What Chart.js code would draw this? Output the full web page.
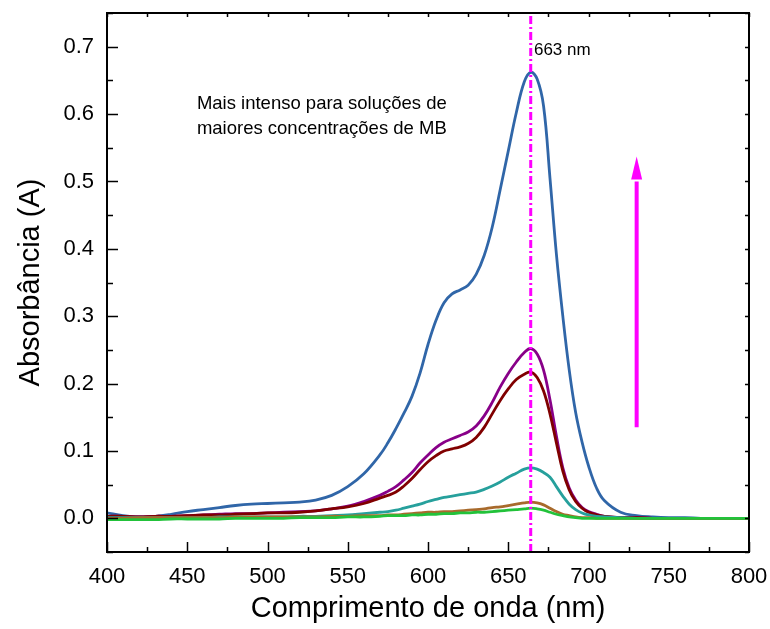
<!DOCTYPE html>
<html>
<head>
<meta charset="utf-8">
<script src="https://cdn.jsdelivr.net/npm/chart.js@4"></script>
<style>
  html, body { margin: 0; padding: 0; background: #fff; }
</style>
</head>
<body>
<canvas id="chart" width="770" height="629"></canvas>
<script>
// wavelength grid (nm) shared by all spectra
const wavelengths = [400,410,420,430,440,450,460,470,480,490,500,510,520,530,540,550,560,570,575,580,585,590,595,600,605,610,615,620,625,630,635,640,645,650,655,660,664,668,672,676,680,684,688,692,696,700,705,710,720,730,740,750,760,770,780,790,800];

// absorbance, highest concentration first
const absBlue   = [0.008,0.004,0.002,0.003,0.006,0.010,0.013,0.016,0.019,0.021,0.022,0.023,0.024,0.027,0.034,0.047,0.066,0.094,0.112,0.133,0.156,0.181,0.215,0.258,0.294,0.320,0.333,0.339,0.346,0.362,0.390,0.432,0.488,0.545,0.602,0.648,0.662,0.652,0.612,0.505,0.392,0.300,0.220,0.157,0.113,0.078,0.045,0.026,0.009,0.004,0.002,0.001,0.001,0,0,0,0];
const absPurple = [0.003,0.003,0.002,0.003,0.003,0.004,0.005,0.006,0.007,0.007,0.008,0.009,0.010,0.011,0.014,0.018,0.025,0.034,0.040,0.047,0.057,0.068,0.082,0.094,0.105,0.113,0.118,0.123,0.128,0.137,0.152,0.172,0.195,0.215,0.232,0.246,0.252,0.244,0.220,0.176,0.122,0.075,0.045,0.027,0.016,0.010,0.006,0.003,0.001,0.001,0,0,0,0,0,0,0];
const absRed    = [0.003,0.003,0.002,0.003,0.003,0.004,0.005,0.005,0.006,0.007,0.008,0.008,0.009,0.011,0.014,0.017,0.022,0.030,0.034,0.039,0.048,0.059,0.072,0.084,0.093,0.100,0.103,0.106,0.111,0.120,0.135,0.155,0.175,0.192,0.206,0.214,0.217,0.209,0.189,0.155,0.112,0.070,0.042,0.025,0.015,0.009,0.005,0.003,0.001,0.001,0,0,0,0,0,0,0];
const absTeal   = [0.001,0.001,0.001,0.001,0.001,0.001,0.001,0.002,0.002,0.002,0.002,0.002,0.003,0.003,0.004,0.005,0.007,0.009,0.010,0.012,0.015,0.018,0.021,0.025,0.028,0.031,0.033,0.035,0.037,0.039,0.043,0.048,0.054,0.061,0.067,0.073,0.075,0.073,0.068,0.061,0.047,0.033,0.021,0.013,0.008,0.005,0.003,0.002,0.001,0,0,0,0,0,0,0,0];
const absBrown  = [0,0,0.001,0.001,0.001,0.001,0.001,0.001,0.002,0.002,0.002,0.002,0.002,0.002,0.003,0.003,0.004,0.004,0.005,0.005,0.006,0.007,0.008,0.009,0.009,0.010,0.010,0.011,0.012,0.013,0.014,0.016,0.017,0.019,0.021,0.023,0.024,0.023,0.020,0.015,0.010,0.006,0.004,0.002,0.001,0.001,0,0,0,0,0,0,0,0,0,0,0];
const absGreen  = [-0.002,-0.002,-0.002,-0.002,-0.001,-0.001,-0.001,-0.001,0,0,0,0,0.001,0.001,0.001,0.002,0.002,0.003,0.004,0.004,0.004,0.005,0.005,0.006,0.006,0.007,0.007,0.008,0.008,0.009,0.009,0.010,0.011,0.012,0.013,0.014,0.015,0.014,0.012,0.009,0.006,0.004,0.002,0.001,0,0,0,0,0,0,0,0,0,0,0,0,0];

// annotations
const peakNm = 664;
const peakLabel = "663 nm";
const arrowNm = 730;
const arrowFrom = 0.135;
const arrowTo = 0.537;
const noteLines = ["Mais intenso para soluções de", "maiores concentrações de MB"];

const xTicks = [400, 450, 500, 550, 600, 650, 700, 750, 800];
const yTicks = [0.0, 0.1, 0.2, 0.3, 0.4, 0.5, 0.6, 0.7];

const FONT = "'Liberation Sans', Arial, Helvetica, sans-serif";
const MAGENTA = "#ff00ff";

function toPoints(values){
  return wavelengths.map((w, i) => ({ x: w, y: values[i] }));
}

function spectrum(values, color){
  return {
    data: toPoints(values),
    borderColor: color,
    borderWidth: 2.8,
    pointRadius: 0,
    fill: false,
    tension: 0.4
  };
}

// frame, inward ticks, arrow and notes
const decorPlugin = {
  id: "decor",
  afterDatasetsDraw(chart){
    const { ctx, chartArea: a, scales: { x, y } } = chart;
    ctx.save();

    // arrow
    const ax = x.getPixelForValue(arrowNm);
    const yTip = y.getPixelForValue(arrowTo);
    const yBase = yTip + 23;
    ctx.strokeStyle = MAGENTA;
    ctx.fillStyle = MAGENTA;
    ctx.lineWidth = 4;
    ctx.beginPath();
    ctx.moveTo(ax, y.getPixelForValue(arrowFrom));
    ctx.lineTo(ax, yBase + 2);
    ctx.stroke();
    ctx.beginPath();
    ctx.moveTo(ax, yTip);
    ctx.lineTo(ax + 5.5, yBase);
    ctx.lineTo(ax - 5.5, yBase);
    ctx.closePath();
    ctx.fill();

    // texts
    ctx.fillStyle = "#000";
    ctx.textBaseline = "alphabetic";
    ctx.textAlign = "left";
    ctx.font = "17px " + FONT;
    ctx.fillText(peakLabel, x.getPixelForValue(666), y.getPixelForValue(0.688));
    ctx.font = "18.5px " + FONT;
    ctx.fillText(noteLines[0], x.getPixelForValue(456), y.getPixelForValue(0.6077));
    ctx.fillText(noteLines[1], x.getPixelForValue(456), y.getPixelForValue(0.5706));

    // frame
    ctx.strokeStyle = "#000";
    ctx.lineWidth = 2;
    ctx.strokeRect(a.left, a.top, a.right - a.left, a.bottom - a.top);

    // ticks
    ctx.lineWidth = 1.5;
    ctx.beginPath();
    for(let v = 400; v <= 800; v += 25){
      const px = Math.round(x.getPixelForValue(v)) + 0.5;
      const len = v % 50 === 0 ? 10 : 5;
      ctx.moveTo(px, a.bottom); ctx.lineTo(px, a.bottom - len);
      ctx.moveTo(px, a.top); ctx.lineTo(px, a.top + 4);
    }
    for(let i = -1; i <= 15; i++){
      const v = i * 0.05;
      const py = Math.round(y.getPixelForValue(v)) + 0.5;
      const len = i % 2 === 0 ? 11 : 6;
      ctx.moveTo(a.left, py); ctx.lineTo(a.left + len, py);
      ctx.moveTo(a.right, py); ctx.lineTo(a.right - 4, py);
    }
    ctx.stroke();
    ctx.restore();
  }
};

const ctx = document.getElementById("chart").getContext("2d");
new Chart(ctx, {
  type: "line",
  data: {
    datasets: [
      {
        data: [{ x: peakNm, y: -0.05 }, { x: peakNm, y: 0.75 }],
        borderColor: MAGENTA,
        borderWidth: 3,
        borderDash: [8, 3, 2, 3],
        pointRadius: 0
      },
      spectrum(absGreen, "#22c23a"),
      spectrum(absBrown, "#a86a2c"),
      spectrum(absTeal, "#26a09c"),
      spectrum(absRed, "#800000"),
      spectrum(absPurple, "#880088"),
      spectrum(absBlue, "#3066a8")
    ]
  },
  options: {
    responsive: false,
    animation: false,
    layout: { padding: { left: 0, right: 21, top: 13, bottom: 0 } },
    plugins: {
      legend: { display: false },
      tooltip: { enabled: false }
    },
    scales: {
      x: {
        type: "linear",
        min: 400,
        max: 800,
        afterFit(s){ s.height = 77; s.paddingLeft = 0; s.paddingRight = 0; },
        afterBuildTicks(s){ s.ticks = xTicks.map(v => ({ value: v })); },
        grid: { display: false, drawTicks: false },
        border: { display: false },
        ticks: {
          padding: 12,
          color: "#000",
          font: { family: FONT, size: 22 },
          maxRotation: 0
        },
        title: {
          display: true,
          text: "Comprimento de onda (nm)",
          color: "#000",
          font: { family: FONT, size: 29 },
          padding: { top: 0, bottom: 3 }
        }
      },
      y: {
        type: "linear",
        min: -0.05,
        max: 0.75,
        afterFit(s){ s.width = 107; s.paddingTop = 0; s.paddingBottom = 0; },
        afterBuildTicks(s){ s.ticks = yTicks.map(v => ({ value: v })); },
        grid: { display: false, drawTicks: false },
        border: { display: false },
        ticks: {
          padding: 13,
          color: "#000",
          font: { family: FONT, size: 22 },
          callback: v => v.toFixed(1)
        },
        title: {
          display: true,
          text: "Absorbância (A)",
          color: "#000",
          font: { family: FONT, size: 29 },
          padding: { top: 14, bottom: 0 }
        }
      }
    }
  },
  plugins: [decorPlugin]
});
</script>
</body>
</html>
